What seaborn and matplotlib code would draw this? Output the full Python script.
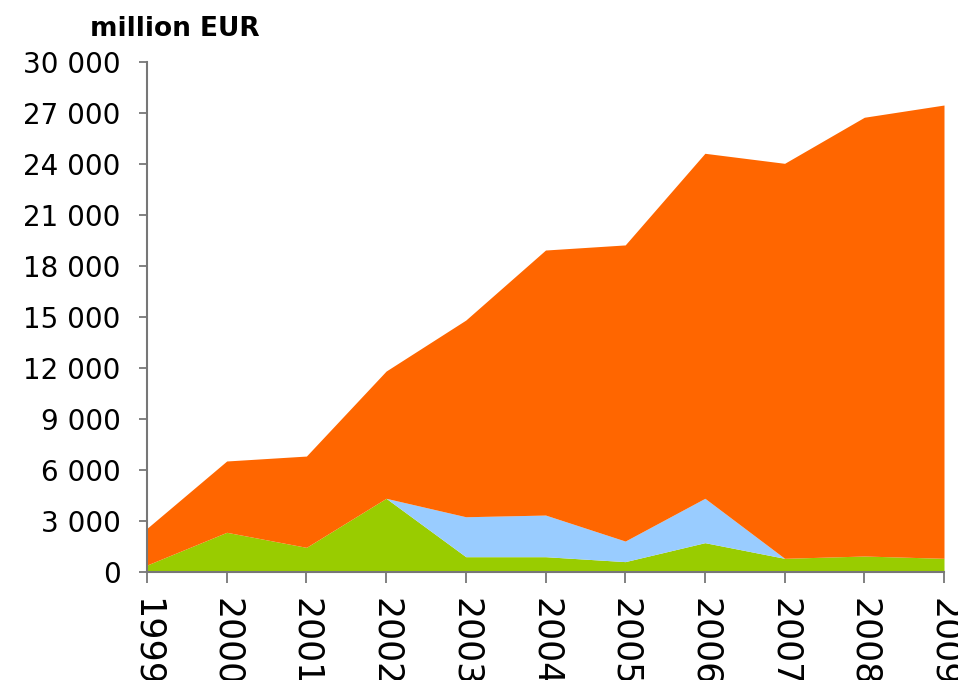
import numpy as np
import matplotlib
matplotlib.use("Agg")
import matplotlib.pyplot as plt
import seaborn as sns
from matplotlib.ticker import FuncFormatter, MultipleLocator

# data (million EUR)
years = [1999, 2000, 2001, 2002, 2003, 2004, 2005, 2006, 2007, 2008, 2009]
green = [410, 2335, 1450, 4335, 900, 900, 610, 1725, 805, 940, 805]
blue = [0, 0, 0, 0, 2350, 2450, 1210, 2610, 0, 0, 0]
total = [2570, 6530, 6820, 11820, 14820, 18940, 19240, 24630, 24040, 26750, 27470]
orange = [t - g - b for t, g, b in zip(total, green, blue)]

colors = ["#99CC00", "#99CCFF", "#FF6600"]

sns.set_style("white")
plt.rcParams["font.family"] = ["DejaVu Sans"]
plt.rcParams["text.color"] = "black"
plt.rcParams["xtick.labelcolor"] = "black"
plt.rcParams["ytick.labelcolor"] = "black"

fig = plt.figure(figsize=(9.58, 6.8), dpi=100)
ax = fig.add_axes([147 / 958, 1 - 572 / 680, (944 - 147) / 958, (572 - 62) / 680])

ax.stackplot(years, green, blue, orange, colors=colors, linewidth=0)

ax.set_xlim(1999, 2009)
ax.set_ylim(0, 30000)
ax.set_xticks(years)
ax.set_xticklabels([str(y) for y in years], rotation=270, fontsize=25)
ax.yaxis.set_major_locator(MultipleLocator(3000))
ax.yaxis.set_major_formatter(FuncFormatter(lambda v, p: f"{int(v):,}".replace(",", " ")))

for s in ["top", "right"]:
    ax.spines[s].set_visible(False)
for s in ["left", "bottom"]:
    ax.spines[s].set_color("#777777")
    ax.spines[s].set_linewidth(1.5)

ax.tick_params(axis="y", direction="out", length=6, width=1.3, color="#777777",
               labelsize=20, pad=13, left=True, labelcolor="black")
ax.tick_params(axis="x", direction="out", length=8, width=1.3, color="#777777",
               pad=11, bottom=True, labelcolor="black")
for lbl in ax.get_xticklabels():
    lbl.set_va("top")
    lbl.set_ha("center")

fig.text(90 / 958, 1 - 36 / 680, "million EUR", fontsize=19, fontweight="bold",
         color="black", ha="left", va="baseline")

fig.savefig("out.png", dpi=100)
